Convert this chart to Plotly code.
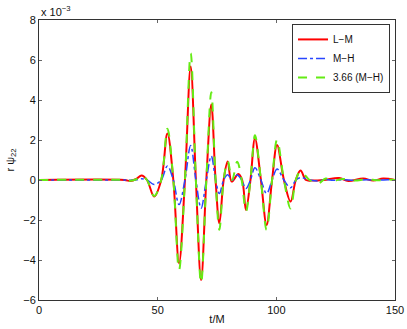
import plotly.graph_objects as go

# waveform samples (values in units of 1e-3)
t_lm = [0, 36, 38.5, 41, 43.2, 45.5, 48.5, 51.5, 54.1, 56.6, 59.0, 61.5, 63.9, 66.1,
        68.3, 70.5, 72.6, 74.4, 76.0, 77.8, 79.5, 81.2, 84.0, 85.6, 87.2, 89.1, 91.0,
        93.5, 95.9, 98.2, 100.3, 103.2, 106.0, 108.2, 110.2, 112.5, 114.8, 120,
        126.5, 130.3, 136.6, 140.8, 145, 150]
psi_lm = [0, 0, -0.05, 0.05, 0.22, 0, -0.83, 0, 2.33, 0, -4.17, 0, 5.67, 0,
          -5.0, 0, 3.78, 0, -2.17, 0, 0.92, -0.08, 0.3, 0, -1.5, 0, 2.08,
          0, -2.25, 0, 1.75, 0, -1.08, 0, 0.47, 0, -0.03, 0.0,
          0.1, -0.05, 0.07, -0.03, 0.07, 0]

t_mh = [0, 36, 38.5, 41, 43.2, 45.5, 48.5, 51.5, 54.1, 56.6, 59.0, 61.5, 63.9, 66.1,
        68.3, 70.5, 72.6, 74.4, 76.0, 77.8, 79.5, 81.4, 83.5, 85.4, 87.2, 89.1, 91.0,
        93.5, 95.9, 98.2, 100.3, 103.2, 106.0, 108.2, 110.2, 114.0, 117.6, 120.8,
        124, 128, 133, 138, 143, 147, 150]
psi_mh = [0, 0, -0.01, 0.01, 0.06, 0, -0.22, 0, 0.70, 0, -1.23, 0, 1.73, 0,
          -1.41, 0, 1.20, 0, -0.68, 0, 0.26, 0.0, 0.25, 0, -0.43, 0, 0.61,
          0, -0.68, 0, 0.55, 0, -0.39, 0, 0.12, 0.0, -0.05, 0.02,
          -0.01, 0.014, -0.008, 0.011, -0.005, 0.008, 0]

scale = 3.66
psi_mh_scaled = [scale * v for v in psi_mh]

fig = go.Figure()
fig.add_trace(go.Scatter(x=t_lm, y=psi_lm, name="L\u2212M", mode="lines",
                         line=dict(color="rgb(255,0,0)", width=2, shape="spline", smoothing=1.0)))
fig.add_trace(go.Scatter(x=t_mh, y=psi_mh, name="M\u2212H", mode="lines",
                         line=dict(color="rgb(40,70,255)", width=1.5, dash="dashdot",
                                   shape="spline", smoothing=1.0)))
fig.add_trace(go.Scatter(x=t_mh, y=psi_mh_scaled, name="3.66 (M\u2212H)", mode="lines",
                         line=dict(color="rgb(100,235,20)", width=2, dash="dash",
                                   shape="spline", smoothing=1.0)))

axis_common = dict(showgrid=False, zeroline=False, showline=True, linecolor="#333",
                   linewidth=1, mirror="ticks", ticks="inside", ticklen=3,
                   tickcolor="#666", tickfont=dict(size=11, color="#111"),
                   automargin=False)
fig.update_xaxes(range=[0, 150], tickvals=[0, 50, 100, 150],
                 title=dict(text="t/M", font=dict(size=11, color="#111"), standoff=0),
                 **axis_common)
fig.update_yaxes(range=[-6, 8], tickvals=[-6, -4, -2, 0, 2, 4, 6, 8],
                 title=dict(text="r \u03c8<sub>22</sub>", font=dict(size=11, color="#111"), standoff=6),
                 **axis_common)

fig.add_annotation(text="x 10<sup>\u22123</sup>", xref="paper", yref="paper", x=0.0, y=1.0,
                   xanchor="left", yanchor="bottom", showarrow=False,
                   font=dict(size=11, color="#111"))

fig.update_layout(
    width=407, height=329,
    margin=dict(l=39, r=12, t=20, b=29),
    paper_bgcolor="white", plot_bgcolor="white",
    font=dict(family="Liberation Sans, Arial, sans-serif", size=11, color="#111"),
    showlegend=True,
    legend=dict(x=0.986, y=0.986, xanchor="right", yanchor="top",
                bgcolor="white", bordercolor="#333", borderwidth=1,
                font=dict(size=10), tracegroupgap=0, itemwidth=30,
                traceorder="normal"),
)

# the page body has a default 8px margin; drop it so the figure fills the window
fig.write_html("out.html", config={"displayModeBar": False},
               post_script="document.body.style.margin='0';")
